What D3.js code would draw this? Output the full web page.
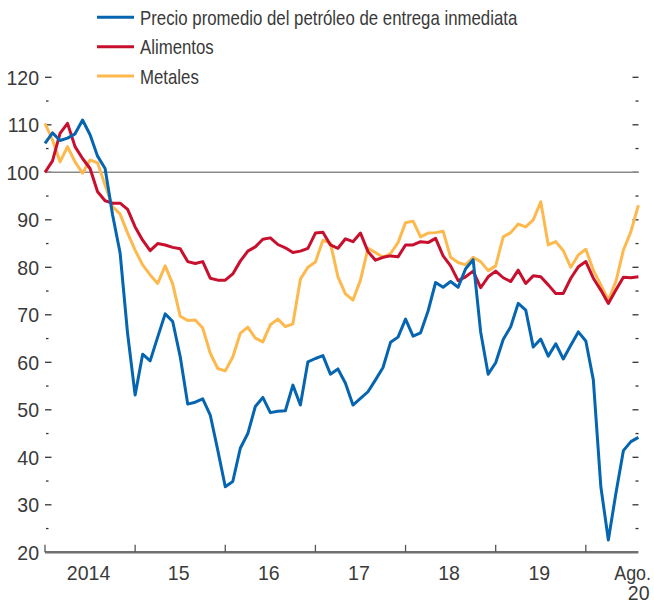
<!DOCTYPE html>
<html>
<head>
<meta charset="utf-8">
<script src="https://cdn.jsdelivr.net/npm/d3@7"></script>
<style>
  body { margin: 0; background: #fff; }
  svg text { font-family: "Liberation Sans", Arial, sans-serif; fill: #3a3a3a; }
</style>
</head>
<body>
<main></main>
<script>
// monthly, Jan 2014 .. Aug 2020 (index 0 .. 79)
const petroleo = [
    106.1, 108.3, 106.7, 107.2, 108.1, 111.0, 107.9, 103.4, 100.8, 91.0, 83.0, 66.0,
    53.1, 61.7, 60.3, 65.3, 70.2, 68.6, 61.2, 51.2, 51.6, 52.3, 48.9, 41.5,
    33.8, 34.9, 41.9, 45.0, 50.7, 52.6, 49.4, 49.7, 49.8, 55.2, 51.0, 60.1,
    60.8, 61.4, 57.5, 58.6, 55.6, 51.0, 52.4, 53.8, 56.3, 58.9, 64.2, 65.3,
    69.1, 65.5, 66.2, 70.8, 76.8, 75.8, 77.0, 75.8, 79.7, 81.6, 66.4, 57.5,
    59.9, 64.8, 67.5, 72.4, 71.0, 63.2, 64.9, 61.3, 63.9, 60.7, 63.6, 66.4,
    64.5, 56.3, 33.8, 22.6, 32.4, 41.4, 43.3, 44.2
];
const alimentos = [
    100.0, 102.4, 108.2, 110.3, 105.4, 102.9, 100.8, 95.9, 94.0, 93.5, 93.5, 92.2,
    88.5, 85.7, 83.5, 85.0, 84.7, 84.2, 83.9, 81.2, 80.8, 81.2, 77.7, 77.3,
    77.3, 78.6, 81.3, 83.4, 84.3, 85.9, 86.2, 84.8, 84.1, 83.1, 83.4, 84.0,
    87.2, 87.4, 84.7, 84.0, 86.0, 85.4, 87.2, 83.3, 81.5, 82.1, 82.4, 82.2,
    84.7, 84.7, 85.4, 85.2, 86.1, 82.4, 80.3, 77.2, 78.0, 79.2, 75.7, 78.0,
    79.2, 77.8, 77.0, 79.4, 76.6, 78.2, 78.0, 76.3, 74.5, 74.5, 77.7, 80.1,
    81.2, 77.7, 75.2, 72.4, 75.2, 77.9, 77.8, 78.0
];
const metales = [
    110.3, 106.8, 102.2, 105.4, 102.2, 99.8, 102.6, 102.0, 97.3, 92.8, 91.2, 87.2,
    83.6, 80.5, 78.4, 76.6, 80.3, 76.5, 69.7, 68.8, 68.9, 67.2, 61.9, 58.7,
    58.2, 61.1, 66.1, 67.4, 65.1, 64.3, 67.9, 69.1, 67.5, 68.1, 77.5, 80.0,
    81.1, 85.7, 85.1, 78.0, 74.4, 73.1, 77.3, 84.0, 83.1, 82.1, 82.9, 85.2,
    89.4, 89.7, 86.4, 87.2, 87.3, 87.6, 82.1, 81.0, 80.5, 82.1, 81.2, 79.3,
    80.3, 86.4, 87.3, 89.1, 88.5, 90.0, 93.8, 84.7, 85.4, 83.5, 80.0, 82.6,
    83.8, 79.4, 76.3, 73.1, 77.0, 83.6, 87.5, 93.1
];
const seriesNames = ["Precio promedio del petróleo de entrega inmediata", "Alimentos", "Metales"];
const seriesColors = ["#0565b0", "#c8102e", "#fdb94e"];
const yearLabels = ["2014", "15", "16", "17", "18", "19"];
const yTicks = [20, 30, 40, 50, 60, 70, 80, 90, 100, 110, 120];
const yMinorTicks = [25, 35, 45, 55, 65, 75, 85, 95, 105, 115];

const width = 654, height = 604;
const svg = d3.select("main").append("svg").attr("width", width).attr("height", height);

const x = d3.scaleLinear().domain([0, 79]).range([45, 638.4]);
const y = d3.scaleLinear().domain([20, 120]).range([552.3, 77.3]);

// the original uses a condensed face; squeeze the installed one to match
function condense(sel, k) {
    sel.each(function () {
        const w = this.getComputedTextLength();
        d3.select(this).attr("textLength", w * k).attr("lengthAdjust", "spacingAndGlyphs");
    });
}

// y labels (left) and tick marks on both sides
svg.append("g")
    .selectAll("text")
    .data(yTicks)
    .join("text")
    .attr("x", 39)
    .attr("y", d => y(d))
    .attr("dy", "0.36em")
    .attr("text-anchor", "end")
    .attr("font-size", 21)
    .text(d => d)
    .call(condense, 0.93);

const tickG = svg.append("g").attr("stroke", "#333").attr("stroke-width", 1.3);
tickG.selectAll("line.lmaj").data(yTicks.slice(1)).join("line")
    .attr("x1", 45).attr("x2", 51.5).attr("y1", d => y(d)).attr("y2", d => y(d));
tickG.selectAll("line.lmin").data(yMinorTicks).join("line").attr("class", "lmin")
    .attr("x1", 46).attr("x2", 48.5).attr("y1", d => y(d)).attr("y2", d => y(d));
tickG.selectAll("line.rmaj").data(yTicks.slice(1)).join("line").attr("class", "rmaj")
    .attr("x1", 632.5).attr("x2", 638.5).attr("y1", d => y(d)).attr("y2", d => y(d));
tickG.selectAll("line.rmin").data(yMinorTicks).join("line").attr("class", "rmin")
    .attr("x1", 635.5).attr("x2", 638.5).attr("y1", d => y(d)).attr("y2", d => y(d));

// reference line at 100
svg.append("line")
    .attr("x1", x(0)).attr("x2", x(79))
    .attr("y1", y(100)).attr("y2", y(100))
    .attr("stroke", "#8a8a8a").attr("stroke-width", 1.6);

// x axis
svg.append("line")
    .attr("x1", x(0)).attr("x2", x(79))
    .attr("y1", y(20)).attr("y2", y(20))
    .attr("stroke", "#707070").attr("stroke-width", 2.5);

svg.append("g")
    .selectAll("line")
    .data(d3.range(0, 79, 12))
    .join("line")
    .attr("x1", d => x(d)).attr("x2", d => x(d))
    .attr("y1", y(20)).attr("y2", y(20) - 7.5)
    .attr("stroke", "#555").attr("stroke-width", 1.3);

svg.append("g")
    .selectAll("text")
    .data(yearLabels)
    .join("text")
    .attr("x", (d, i) => x(i * 12 + 5.8))
    .attr("y", 580)
    .attr("text-anchor", "middle")
    .attr("font-size", 21)
    .text(d => d)
    .call(condense, 0.93);

// last label, on two lines
svg.append("g")
    .attr("transform", "translate(651, 579.5) scale(0.85, 1)")
    .append("text")
    .attr("text-anchor", "end").attr("font-size", 21).text("Ago.");
svg.append("text").attr("x", 638.7).attr("y", 600)
    .attr("text-anchor", "middle").attr("font-size", 21).text("20")
    .call(condense, 0.93);

// series lines
const line = d3.line().x((d, i) => x(i)).y(d => y(d));
const allSeries = [metales, alimentos, petroleo];
const drawColors = [seriesColors[2], seriesColors[1], seriesColors[0]];
svg.append("g")
    .selectAll("path")
    .data(allSeries)
    .join("path")
    .attr("d", line)
    .attr("fill", "none")
    .attr("stroke", (d, i) => drawColors[i])
    .attr("stroke-width", 3)
    .attr("stroke-linejoin", "round");

// legend
const legend = svg.append("g")
    .selectAll("g")
    .data(seriesNames)
    .join("g")
    .attr("transform", (d, i) => `translate(97, ${17.3 + i * 29.4})`);
legend.append("line")
    .attr("x1", 0).attr("x2", 37)
    .attr("stroke", (d, i) => seriesColors[i])
    .attr("stroke-width", 3);
legend.append("text")
    .attr("x", 43)
    .attr("dy", "0.36em")
    .attr("font-size", 21)
    .text(d => d)
    .call(condense, 0.8);
</script>
</body>
</html>
